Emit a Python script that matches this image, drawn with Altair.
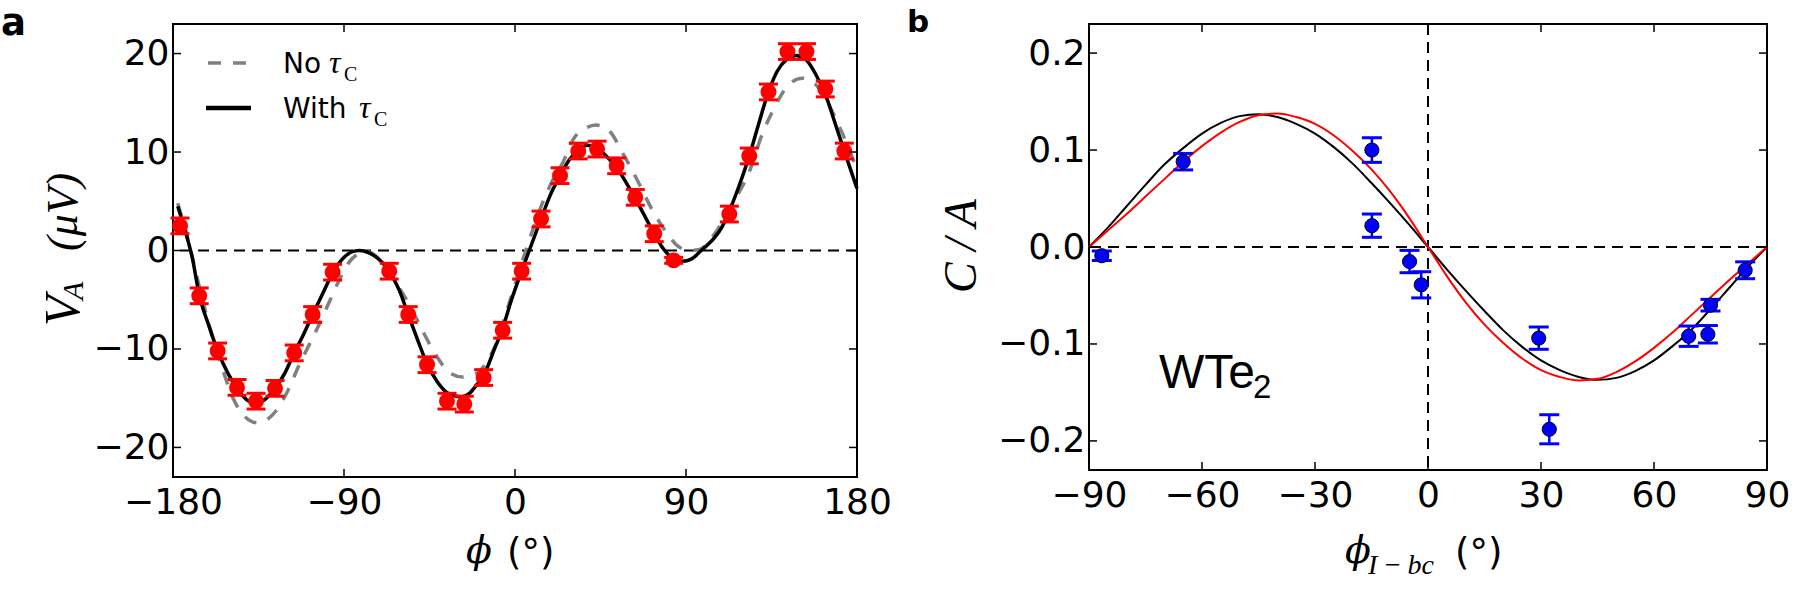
import altair as alt
import pandas as pd

# ---------------- panel a: V_A versus phi ----------------
a_phi = [-176.3, -166.2, -156.5, -146.3, -136.3, -126.3, -116.2, -106.5, -96.0,
         -66.2, -56.2, -46.3, -35.8, -26.7, -16.5, -6.5, 3.5, 13.7, 23.7, 33.3,
         43.2, 53.5, 63.3, 73.3, 83.5, 112.8, 123.3, 133.4, 143.4, 153.4, 163.3, 173.3]
a_va = [2.5, -4.6, -10.2, -13.9, -15.3, -14.0, -10.4, -6.5, -2.2,
        -2.1, -6.5, -11.6, -15.3, -15.6, -12.9, -8.1, -2.1, 3.2, 7.6, 10.1,
        10.3, 8.6, 5.4, 1.7, -1.0, 3.7, 9.6, 16.1, 20.2, 20.2, 16.4, 10.1]
a_err = [0.8, 0.8, 0.8, 0.8, 0.8, 0.8, 0.8, 0.8, 0.8,
         0.8, 0.8, 0.8, 0.8, 0.8, 0.8, 0.8, 0.8, 0.8, 0.8, 0.8,
         0.8, 0.8, 0.8, 0.8, 0.3, 0.8, 0.8, 0.8, 0.8, 0.8, 0.8, 0.8]

# model with tau_C (solid black)
with_phi = [-177.5, -173, -170, -166.2, -161, -156.5, -151, -146.3, -141, -137, -133,
            -126.3, -121, -116.2, -111, -106.5, -101, -96, -91, -86, -82, -78, -74,
            -70, -66.2, -61, -56.2, -51, -46.3, -41, -36, -31, -28, -24, -20, -16.5,
            -11, -6.5, -1.5, 3.5, 7.5, 13.7, 18.5, 23.7, 28.5, 33.3, 38, 43, 48, 53.5,
            58.5, 63.3, 68, 73.3, 78, 83, 88, 93, 98, 105, 109, 112.8, 118, 123.3, 128,
            133.4, 138, 143, 148, 153, 158, 164.6, 168, 173.3, 178.6, 180]
with_va = [4.5, 1.6, -0.6, -4.5, -7.7, -10.2, -12.5, -14.0, -15.2, -15.5, -15.3,
           -14.0, -12.4, -10.4, -8.4, -6.5, -4.3, -2.3, -0.9, -0.15, 0.0, -0.15, -0.55,
           -1.2, -2.1, -4.0, -6.5, -9.2, -11.5, -13.3, -14.4, -14.8, -14.85, -14.5, -13.6, -12.7,
           -10.1, -7.9, -4.8, -2.1, 0.0, 3.2, 5.6, 7.6, 9.2, 10.2, 10.7, 10.4, 9.6, 8.4,
           6.9, 5.3, 3.6, 1.7, 0.2, -0.8, -1.1, -0.85, 0.0, 1.3, 2.4, 4.0, 6.6, 9.6, 12.7,
           16.1, 18.2, 19.4, 19.8, 19.4, 18.0, 15.2, 13.2, 10.1, 7.1, 6.3]

# model without tau_C (grey dashed)
no_phi = [-177.5, -173, -166, -160, -154, -148.6, -142, -135.4, -130, -125.8, -120.5,
          -113.5, -103.8, -97, -92, -87, -83, -79, -75, -70, -65, -56.5, -47.7, -40.7,
          -33.7, -27.5, -21.4, -14.4, -9, -4, 0, 4, 9, 14, 19.5, 25.1, 31.2, 37, 42.6,
          48.8, 57.5, 64.6, 71.6, 80.4, 86, 92, 97, 104.9, 110, 115.3, 124.1, 129.4,
          136.5, 143, 151.2, 158, 164, 170.9, 176, 180]
no_va = [4.8, 1.8, -3.8, -8.3, -12.0, -14.9, -16.9, -17.5, -17.1, -16.3, -14.6,
         -11.6, -7.8, -4.9, -2.8, -1.1, -0.4, -0.1, -0.3, -1.2, -2.6, -5.2, -8.5, -10.9,
         -12.5, -12.85, -12.6, -11.2, -9.0, -5.9, -3.5, -1.0, 1.9, 4.6, 7.0, 8.9, 11.45, 12.4, 12.74,
         12.3, 9.6, 7.06, 4.35, 1.65, 0.4, 0.0, 0.1, 1.65, 3.2, 5.0, 8.4, 11.45,
         14.5, 16.6, 17.5, 16.9, 15.2, 12.5, 10.2, 8.2]

a_xticks = [-180, -90, 0, 90, 180]
a_yticks = [-20, -10, 0, 10, 20]

# ---------------- panel b: C/A versus phi_{I-bc} ----------------
b_phi = [-86.6, -65.0, -14.9, -14.9, -4.9, -1.8, 29.4, 32.2, 69.2, 74.3, 75.0, 84.2]
b_ca = [-0.009, 0.088, 0.100, 0.022, -0.015, -0.039, -0.094, -0.188, -0.092, -0.090, -0.060, -0.024]
b_err = [0.005, 0.0085, 0.0127, 0.012, 0.0115, 0.0135, 0.0115, 0.015, 0.0105, 0.009, 0.006, 0.0087]

fit_phi = [-90, -85, -80, -75, -70, -65, -60, -55, -50, -45, -40, -35, -30, -25, -20, -15, -10, -5,
           0, 5, 10, 15, 20, 25, 30, 35, 40, 45, 50, 55, 60, 65, 70, 75, 80, 85, 90]
fit_black = [0.000, 0.020, 0.042, 0.064, 0.085, 0.102, 0.117, 0.128, 0.135, 0.137, 0.134, 0.127,
             0.117, 0.103, 0.086, 0.066, 0.045, 0.023,
             0.000, -0.023, -0.045, -0.066, -0.086, -0.103, -0.117, -0.127, -0.134, -0.137, -0.135,
             -0.128, -0.117, -0.102, -0.085, -0.064, -0.042, -0.020, 0.000]
fit_red = [0.000, 0.017, 0.034, 0.052, 0.070, 0.088, 0.104, 0.118, 0.129, 0.136, 0.1376, 0.134,
           0.127, 0.115, 0.099, 0.080, 0.057, 0.030,
           0.000, -0.030, -0.057, -0.080, -0.099, -0.115, -0.127, -0.134, -0.1376, -0.136, -0.129,
           -0.118, -0.104, -0.088, -0.070, -0.052, -0.034, -0.017, 0.000]

b_xticks = [-90, -60, -30, 0, 30, 60, 90]
b_yticks = [-0.2, -0.1, 0.0, 0.1, 0.2]

SANS = "DejaVu Sans"
SERIF = "Liberation Serif"


def encoders(xdom, ydom, xticks, yticks, xfmt, yfmt):
    xs = alt.Scale(domain=xdom, nice=False, zero=False)
    ys = alt.Scale(domain=ydom, nice=False, zero=False)
    common = dict(ticks=False, domain=False, grid=False, labelFont=SANS, labelFontSize=36,
                  labelColor="black", labelOverlap=False, labelFlush=False, labelBound=False,
                  title=None)
    xa = alt.Axis(values=xticks, format=xfmt, labelPadding=8, **common)
    ya = alt.Axis(values=yticks, format=yfmt, labelPadding=4, **common)

    def X(f):
        return alt.X(f, type="quantitative", scale=xs, axis=xa)

    def Y(f):
        return alt.Y(f, type="quantitative", scale=ys, axis=ya)
    return X, Y


def frame_ticks(X, Y, xticks, yticks, w, h, L=8):
    dx = pd.DataFrame({"v": xticks})
    dy = pd.DataFrame({"v": yticks})
    st = dict(color="black", strokeWidth=1.5)
    return [
        alt.Chart(dx).mark_rule(**st).encode(x=X("v"), y=alt.value(0), y2=alt.value(L)),
        alt.Chart(dx).mark_rule(**st).encode(x=X("v"), y=alt.value(h - L), y2=alt.value(h)),
        alt.Chart(dy).mark_rule(**st).encode(y=Y("v"), x=alt.value(0), x2=alt.value(L)),
        alt.Chart(dy).mark_rule(**st).encode(y=Y("v"), x=alt.value(w - L), x2=alt.value(w)),
    ]


def text(t, x, y, size, font=SANS, style="normal", weight="normal", angle=0,
         align="left", baseline="alphabetic"):
    return alt.Chart(pd.DataFrame({"t": [t]})).mark_text(
        font=font, fontSize=size, fontStyle=style, fontWeight=weight, angle=angle,
        align=align, baseline=baseline, color="black"
    ).encode(text="t:N", x=alt.value(x), y=alt.value(y))


def seg(x1, x2, y, color, width, dash=None):
    kw = dict(color=color, strokeWidth=width)
    if dash:
        kw["strokeDash"] = dash
    return alt.Chart(pd.DataFrame({"v": [0]})).mark_rule(**kw).encode(
        x=alt.value(x1), x2=alt.value(x2), y=alt.value(y))


def errorbars(df, X, Y, color, lw, capw):
    return [
        alt.Chart(df).mark_rule(color=color, strokeWidth=lw).encode(
            x=X("x"), y=Y("lo"), y2=alt.Y2("hi")),
        alt.Chart(df).mark_tick(color=color, orient="horizontal", size=capw, thickness=3,
                                opacity=1).encode(x=X("x"), y=Y("lo")),
        alt.Chart(df).mark_tick(color=color, orient="horizontal", size=capw, thickness=3,
                                opacity=1).encode(x=X("x"), y=Y("hi")),
    ]


# ---------- build panel a ----------
WA, HA = 684, 453
Xa, Ya = encoders([-180, 180], [-23, 23], a_xticks, a_yticks, "d", "d")

pts_a = pd.DataFrame({"x": a_phi, "y": a_va,
                      "lo": [v - e for v, e in zip(a_va, a_err)],
                      "hi": [v + e for v, e in zip(a_va, a_err)]})
with_df = pd.DataFrame({"x": with_phi, "y": with_va})
no_df = pd.DataFrame({"x": no_phi, "y": no_va})

layers_a = [
    # invisible corner that pins the page's top-left
    alt.Chart(pd.DataFrame({"v": [0]})).mark_rule(strokeWidth=0, opacity=0).encode(
        x=alt.value(-172), x2=alt.value(-172), y=alt.value(-23), y2=alt.value(-23)),
    alt.Chart(pd.DataFrame({"v": [0]})).mark_rule(color="black", strokeWidth=2,
                                                  strokeDash=[11, 7]).encode(y=Ya("v")),
    alt.Chart(no_df).mark_line(color="#808080", strokeWidth=3.5, strokeDash=[13, 12],
                               interpolate="monotone").encode(x=Xa("x"), y=Ya("y")),
    alt.Chart(with_df).mark_line(color="black", strokeWidth=3.5,
                                 interpolate="monotone").encode(x=Xa("x"), y=Ya("y")),
    *errorbars(pts_a, Xa, Ya, "#ff0000", 3, 19),
    alt.Chart(pts_a).mark_circle(size=254, color="#ff0000", opacity=1).encode(
        x=Xa("x"), y=Ya("y")),
    *frame_ticks(Xa, Ya, a_xticks, a_yticks, WA, HA),
    # legend
    seg(35, 73, 39, "#808080", 3.5, [13, 12]),
    seg(33, 78, 84, "black", 4.5),
    text("No", 110, 49, 28),
    text("τ", 156, 49, 32, font=SERIF, style="italic"),
    text("C", 171, 57, 20, font=SERIF),
    text("With", 110, 94, 28),
    text("τ", 186, 94, 32, font=SERIF, style="italic"),
    text("C", 201, 102, 20, font=SERIF),
    # axis titles
    text("V", -94, 302, 50, font=SERIF, style="italic", angle=270),
    text("A", -90, 276, 30, font=SERIF, style="italic", angle=270),
    text("(μV)", -96, 227, 44, font=SERIF, style="italic", angle=270),
    text("\u03d5", 293, 539, 38, font="DejaVu Serif", style="italic"),
    text("(°)", 334, 541, 37),
    # panel letter
    text("a", -172, 11, 37, weight="bold"),
]
panel_a = alt.layer(*layers_a).properties(width=WA, height=HA)

# ---------- build panel b ----------
WB, HB = 678, 446
Xb, Yb = encoders([-90, 90], [-0.23, 0.23], b_xticks, b_yticks, "d", ".1f")

pts_b = pd.DataFrame({"x": b_phi, "y": b_ca,
                      "lo": [v - e for v, e in zip(b_ca, b_err)],
                      "hi": [v + e for v, e in zip(b_ca, b_err)]})
fit_b = pd.DataFrame({"x": fit_phi, "black": fit_black, "red": fit_red})

layers_b = [
    alt.Chart(pd.DataFrame({"v": [0]})).mark_rule(color="black", strokeWidth=2,
                                                  strokeDash=[11, 7]).encode(y=Yb("v")),
    alt.Chart(pd.DataFrame({"v": [0]})).mark_rule(color="black", strokeWidth=2,
                                                  strokeDash=[11, 7]).encode(x=Xb("v")),
    alt.Chart(fit_b).mark_line(color="black", strokeWidth=2,
                               interpolate="monotone").encode(x=Xb("x"), y=Yb("black")),
    alt.Chart(fit_b).mark_line(color="#ff0000", strokeWidth=2,
                               interpolate="monotone").encode(x=Xb("x"), y=Yb("red")),
    *errorbars(pts_b, Xb, Yb, "#0000ff", 2.5, 20),
    alt.Chart(pts_b).mark_circle(size=200, fill="#0000ff", stroke="black", strokeWidth=1,
                                 fillOpacity=1, opacity=1).encode(x=Xb("x"), y=Yb("y")),
    *frame_ticks(Xb, Yb, b_xticks, b_yticks, WB, HB),
    text("WTe", 70, 364, 48, font="Liberation Sans"),
    text("2", 164, 374, 33, font="Liberation Sans"),
    text("C / A", -113, 269, 46, font=SERIF, style="italic", angle=270),
    text("\u03d5", 256, 539, 38, font="DejaVu Serif", style="italic"),
    text("I\u2009−\u2009bc", 279, 550, 28, font=SERIF, style="italic"),
    text("(°)", 366, 541, 37),
    text("b", -182, 8, 31, weight="bold"),
]
panel_b = alt.layer(*layers_b).properties(width=WB, height=HB)

chart = alt.hconcat(panel_a, panel_b, spacing=232, bounds="flush").properties(
    padding=0, background="white"
).configure_view(stroke="black", strokeWidth=2)

chart.save("out.html", embed_options={"renderer": "svg", "actions": False})
